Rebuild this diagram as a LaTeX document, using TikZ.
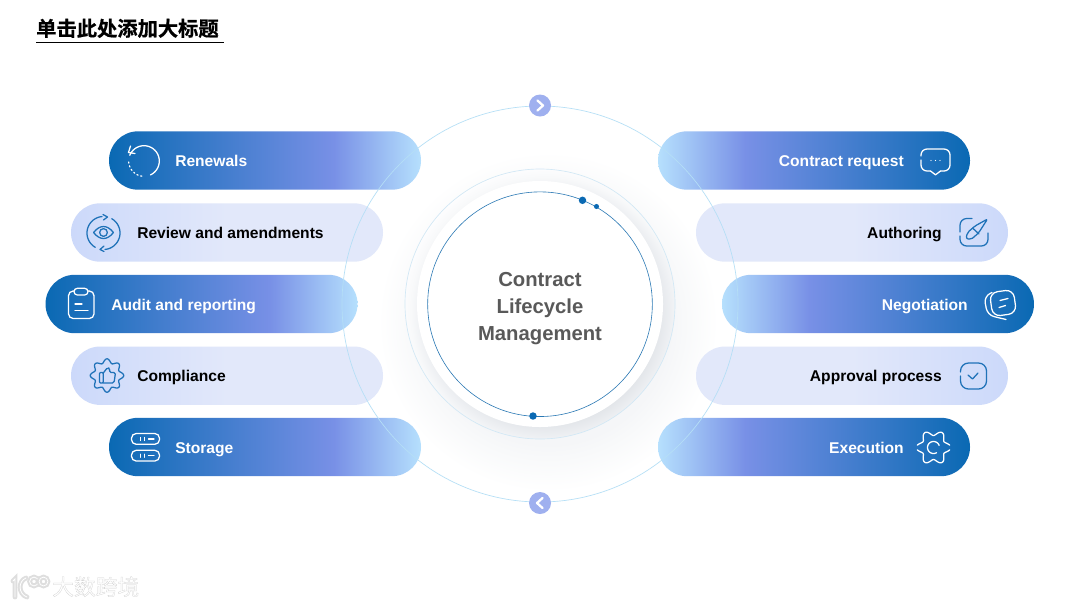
\documentclass[tikz,border=0pt]{standalone}
\usepackage{fontspec}
\setmainfont{Liberation Sans}
\newfontfamily\cjk{Noto Sans CJK SC}[BoldFont={* Bold},BoldFeatures={FakeBold=0.7}]
\newfontfamily\wmfont[FakeBold=1.2]{Noto Sans CJK SC}
\definecolor{pdark}{HTML}{0A69B3}
\definecolor{pmid}{HTML}{7890E6}
\definecolor{plite}{HTML}{B6E0FD}
\definecolor{lleft}{HTML}{CCD9FA}
\definecolor{lright}{HTML}{E2E8FA}
\definecolor{iconblue}{HTML}{1F72B8}
\definecolor{orbit}{HTML}{B5DFF6}
\definecolor{ringc}{HTML}{D2E8F5}
\definecolor{hubline}{HTML}{2A78B4}
\definecolor{btn}{HTML}{9FB0EF}
\definecolor{shada}{HTML}{E3E6EA}
\definecolor{shadb}{HTML}{EEF0F3}
\definecolor{shadc}{HTML}{F8F9FA}
\definecolor{shadd}{HTML}{FDFDFE}
\definecolor{shade}{HTML}{F5F6F8}
\pgfdeclarehorizontalshading{pillDL}{100bp}{color(0bp)=(pdark); color(25bp)=(pdark); color(61bp)=(pmid); color(75bp)=(plite); color(100bp)=(plite)}
\pgfdeclarehorizontalshading{pillDR}{100bp}{color(0bp)=(plite); color(25bp)=(plite); color(39bp)=(pmid); color(75bp)=(pdark); color(100bp)=(pdark)}
\pgfdeclarehorizontalshading{pillLL}{100bp}{color(0bp)=(lleft); color(25bp)=(lleft); color(50bp)=(lright); color(100bp)=(lright)}
\pgfdeclarehorizontalshading{pillLR}{100bp}{color(0bp)=(lright); color(50bp)=(lright); color(75bp)=(lleft); color(100bp)=(lleft)}
\pgfdeclareradialshading{softshadow}{\pgfpointorigin}{color(0bp)=(shade); color(18bp)=(shade); color(20bp)=(shadc); color(25bp)=(white); color(50bp)=(white)}
\pgfdeclareradialshading{bandshadow}{\pgfpointorigin}{color(0bp)=(shada); color(16.6bp)=(shada); color(18.4bp)=(shadb); color(19.9bp)=(shadc); color(21.3bp)=(shadd); color(25bp)=(white); color(50bp)=(white)}
\tikzset{
  x=0.75pt,y=-0.75pt,
  pill/.style={rectangle,inner sep=0pt,minimum width=234pt,minimum height=43.8pt,rounded corners=21.9pt,draw=none},
  dl/.style={pill,shade,shading=pillDL},
  dr/.style={pill,shade,shading=pillDR},
  ll/.style={pill,shade,shading=pillLL},
  lr/.style={pill,shade,shading=pillLR},
  wtext/.style={text=white,font=\fontsize{11.7pt}{14pt}\selectfont\bfseries,inner sep=0pt},
  btext/.style={text=black,font=\fontsize{11.7pt}{14pt}\selectfont\bfseries,inner sep=0pt},
  wicon/.style={draw=white,line width=0.95pt,line cap=round,line join=round},
  bicon/.style={draw=iconblue,line width=0.95pt,line cap=round,line join=round},
  hoop/.style={circle,inner sep=0pt,fill=none},
  dotn/.style={circle,inner sep=0pt,fill=pdark},
  btnn/.style={circle,inner sep=0pt,minimum size=16.5pt,fill=btn},
  chev/.style={draw=white,line width=1.7pt,line cap=round,line join=round},
  wmline/.style={draw=black!13,line width=1.5pt,double=white,double distance=0.6pt,line cap=round}
}
\begin{document}
\begin{tikzpicture}
\useasboundingbox (0,0) rectangle (1080,608);
\fill[white] (0,0) rectangle (1080,608);
% title
\node[anchor=base west,inner sep=0pt,font=\cjk\fontsize{15.2pt}{18pt}\selectfont\bfseries] (title) at (36,36) {单击此处添加大标题};
\coordinate (ula) at (36,42.7);
\coordinate (ulb) at (224,42.7);
\draw[line width=0.8pt,black] (ula) -- (ulb);
% hub
\shade[shading=softshadow] (378,152) rectangle (718,492);
\begin{scope}
  \clip (540,304) circle[radius=101.25pt];
  \shade[shading=bandshadow] (376,142) rectangle (716,482);
\end{scope}
\node[hoop,minimum size=202.5pt,draw=ringc,line width=0.5pt] (ring) at (540,304) {};
\node[hoop,minimum size=184.5pt,fill=white] (disc) at (540,304) {};
\node[hoop,minimum size=168.5pt,draw=hubline,line width=0.45pt] (hub) at (540,304.2) {};
\node[dotn,minimum size=5.6pt] (d1) at (582.5,200.3) {};
\node[dotn,minimum size=3.8pt] (d2) at (596.5,206.5) {};
\node[dotn,minimum size=5.6pt] (d3) at (533,416) {};
\node[align=center,text=black!65,inner sep=0pt,font=\fontsize{15.2pt}{20.25pt}\selectfont\bfseries] (hubtext) at (540,308.5) {Contract\\Lifecycle\\Management};
% pills left
\node[dl] (p1) at (265,160.5) {};
\node[ll] (p2) at (227,232.5) {};
\node[dl] (p3) at (201.5,304) {};
\node[ll] (p4) at (227,375.7) {};
\node[dl] (p5) at (265,447) {};
% pills right
\node[dr] (q1) at (814,160.5) {};
\node[lr] (q2) at (852,232.5) {};
\node[dr] (q3) at (878,304) {};
\node[lr] (q4) at (852,375.7) {};
\node[dr] (q5) at (814,447) {};
% labels
\node[wtext,anchor=base west] (t1) at (175,166) {Renewals};
\node[btext,anchor=base west] (t2) at (137,238) {Review and amendments};
\node[wtext,anchor=base west] (t3) at (111,310) {Audit and reporting};
\node[btext,anchor=base west] (t4) at (137,381) {Compliance};
\node[wtext,anchor=base west] (t5) at (175,453) {Storage};
\node[wtext,anchor=base east] (u1) at (904,166) {Contract request};
\node[btext,anchor=base east] (u2) at (942,238) {Authoring};
\node[wtext,anchor=base east] (u3) at (968,310) {Negotiation};
\node[btext,anchor=base east] (u4) at (942,381) {Approval process};
\node[wtext,anchor=base east] (u5) at (904,453) {Execution};
% outer orbit and buttons
\node[hoop,minimum size=297pt,draw=orbit,line width=0.5pt] (outer) at (540,304) {};
\node[btnn] (bt) at (540,105.5) {};
\node[btnn] (bb) at (540,503) {};
\draw[chev] (537.5,100.5) -- (543,105.5) -- (537.5,110.5);
\draw[chev] (542.5,498) -- (537,503) -- (542.5,508);
% --- icons ---
% renewals
\draw[wicon] plot[domain=-158:65,samples=50,smooth] ({144+15.3*cos(\x)},{161+15.3*sin(\x)});
\draw[wicon,dotted,line width=0.9pt] plot[domain=98:180,samples=20,smooth] ({144+15.3*cos(\x)},{161+15.3*sin(\x)});
\draw[wicon] (130.5,146) -- (128.5,152.5) -- (135,153.5);
% review
\draw[bicon] plot[domain=120:265,samples=40,smooth] ({103.5+16.5*cos(\x)},{233+16.5*sin(\x)});
\draw[bicon] plot[domain=-60:85,samples=40,smooth] ({103.5+16.5*cos(\x)},{233+16.5*sin(\x)});
\draw[bicon] (103,214.5) -- (107.5,217) -- (103.5,220);
\draw[bicon] (104,246) -- (100,249.5) -- (104,251.5);
\draw[bicon] (93.5,232.5) .. controls (100,224.5) and (107,224.5) .. (113.5,232.5) .. controls (107,240.5) and (100,240.5) .. (93.5,232.5) -- cycle;
\draw[bicon] (103.5,232.5) circle[radius=2.9pt];
% audit
\draw[wicon,rounded corners=3.5pt] (74,291) -- (68.5,291) -- (68.5,318.5) -- (94,318.5) -- (94,291) -- (88,291);
\draw[wicon,rounded corners=2.5pt] (74,288.3) rectangle (88,295);
\draw[wicon] (75,304) -- (82,304);
\draw[wicon] (75,310.8) -- (88,310.8);
% compliance
\draw[bicon] plot[domain=0:360,samples=160,smooth] ({107+(14.7+2*cos(8*\x))*cos(\x)},{375.5+(14.7+2*cos(8*\x))*sin(\x)});
\draw[bicon,rounded corners=0.8pt] (99.5,372.5) rectangle (103.3,383);
\draw[bicon,rounded corners=1.2pt] (103.3,373) -- (107.5,367.5) -- (110,368.5) -- (109.3,372.5) -- (115.5,372.5) -- (114,383) -- (103.3,383);
% storage
\draw[wicon,rounded corners=3.5pt] (131.5,433.5) rectangle (159.5,444.3);
\draw[wicon,rounded corners=3.5pt] (131.5,450.3) rectangle (159.5,461);
\foreach \yy in {439,455.7} {
  \draw[wicon] (140.5,{\yy-1.5}) -- (140.5,{\yy+1.5});
  \draw[wicon] (144.5,{\yy-1.5}) -- (144.5,{\yy+1.5});
  \draw[wicon] (148.5,\yy) -- (154,\yy);
}
% contract request
\draw[wicon,rounded corners=4.5pt] (921,156) -- (921,149) -- (950,149) -- (950,171) -- (940.5,171);
\draw[wicon] (940.5,171) -- (935.5,174.8) -- (930.5,171);
\draw[wicon,rounded corners=4.5pt] (930.5,171) -- (921,171) -- (921,160);
\foreach \xx in {931,935.5,940} { \fill[white] (\xx,160.5) circle[radius=0.5pt]; }
% authoring
\draw[bicon,rounded corners=5pt] (972,218.5) -- (960,218.5) -- (960,232);
\draw[bicon,rounded corners=5pt] (960,236) -- (960,246) -- (988,246) -- (988,233);
\draw[bicon,rounded corners=1.5pt] (987.5,219) -- (975,226) -- (967.5,232.5) -- (966,238.5) -- (971,239.5) -- (978.5,233) -- cycle;
\draw[bicon] (972.5,228) -- (979,234);
% negotiation
\draw[wicon,rounded corners=6pt,rotate around={8:(1003,303)}] (991,291) rectangle (1015,315);
\draw[wicon,rounded corners=5pt] (992,292.5) -- (984,296.5) -- (987.5,315) -- (1006,319.5);
\draw[wicon] (1000,300.5) -- (1008,298.5);
\draw[wicon] (999,307.5) -- (1005.5,305.5);
% approval
\draw[bicon,rounded corners=6pt] (960.5,372) -- (960.5,363) -- (986.5,363) -- (986.5,389) -- (960.5,389) -- (960.5,376);
\draw[bicon] (968,375) -- (972.5,379) -- (978,373);
% execution
\draw[wicon] plot[domain=8:172,samples=70,smooth] ({933.5+(14.6+2.6*cos(6*\x))*cos(\x)},{447.5+(14.6+2.6*cos(6*\x))*sin(\x)});
\draw[wicon] plot[domain=188:352,samples=70,smooth] ({933.5+(14.6+2.6*cos(6*\x))*cos(\x)},{447.5+(14.6+2.6*cos(6*\x))*sin(\x)});
\draw[wicon] plot[domain=60:340,samples=40,smooth] ({933.5+6*cos(\x)},{447.5+6*sin(\x)});
% watermark
\draw[wmline] (13,581) -- (15,579) -- (15,597);
\draw[wmline] (26,578) .. controls (18,581) and (18,594) .. (27,597);
\draw[wmline] (34,581.5) circle[radius=3.3pt];
\draw[wmline] (43.5,581.5) circle[radius=3.3pt];
\node[anchor=base west,inner sep=0pt,text=white,font=\wmfont\fontsize{16.3pt}{18pt}\selectfont] (wm) at (52,595) {\special{pdf:code 0.82 0.82 0.82 RG}大数跨境};
\end{tikzpicture}
\end{document}
